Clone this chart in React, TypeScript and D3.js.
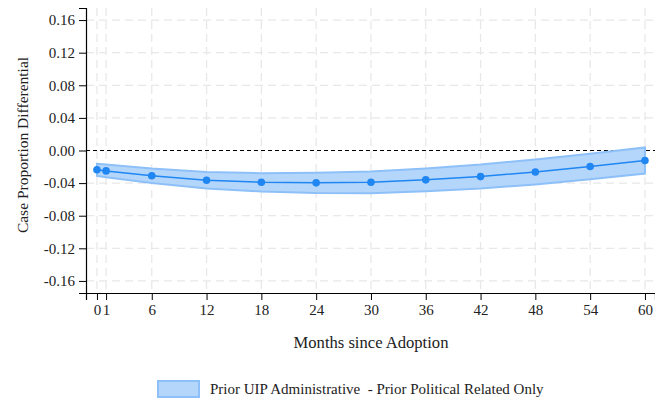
import * as d3 from "d3";
import React, { useRef, useEffect } from "react";

const width = 655;
const height = 400;
const margin = { top: 8, right: 0, bottom: 107, left: 86 };
const font = "'Liberation Serif', 'Times New Roman', serif";

const months = [0, 1, 6, 12, 18, 24, 30, 36, 42, 48, 54, 60];
const estimate = [-0.0237, -0.025, -0.031, -0.0365, -0.039, -0.0397, -0.039, -0.036, -0.032, -0.0263, -0.0196, -0.0122];
const lower = [-0.0312, -0.0327, -0.0398, -0.0465, -0.0502, -0.052, -0.0523, -0.05, -0.0467, -0.0416, -0.0353, -0.0282];
const upper = [-0.0162, -0.0173, -0.0222, -0.0265, -0.0278, -0.0274, -0.0257, -0.022, -0.0173, -0.011, -0.0039, 0.0038];
const yTicks = [0.16, 0.12, 0.08, 0.04, 0, -0.04, -0.08, -0.12, -0.16];
const legendLabel = "Prior UIP Administrative  - Prior Political Related Only";

const fmtY = (d: number) => d3.format(".2f")(d).replace("\u2212", "-");

export default function App() {
  const ref = useRef<SVGSVGElement>(null);

  useEffect(() => {
    if (!ref.current) return;
    const svg = d3.select(ref.current);
    svg.selectAll("*").remove();

    const data = months.map((m, i) => ({ m, est: estimate[i], lo: lower[i], hi: upper[i] }));

    const x = d3.scaleLinear().domain([-1.2, 61.1]).range([margin.left, width - margin.right]);
    const y = d3.scaleLinear().domain([-0.1748, 0.1748]).range([height - margin.bottom, margin.top]);

    // grid
    const grid = svg.append("g");
    grid.selectAll("line.v")
      .data(months)
      .join("line")
      .attr("x1", d => x(d)).attr("x2", d => x(d))
      .attr("y1", margin.top).attr("y2", height - margin.bottom)
      .attr("stroke", "#e8e8e8").attr("stroke-width", 1.3)
      .attr("stroke-dasharray", "8,5");
    grid.selectAll("line.h")
      .data(yTicks.filter(d => d !== 0))
      .join("line")
      .attr("x1", margin.left).attr("x2", width - margin.right)
      .attr("y1", d => y(d)).attr("y2", d => y(d))
      .attr("stroke", "#e8e8e8").attr("stroke-width", 1.3)
      .attr("stroke-dasharray", "8,5");

    // zero reference
    svg.append("line")
      .attr("x1", margin.left).attr("x2", width - margin.right)
      .attr("y1", y(0)).attr("y2", y(0))
      .attr("stroke", "#000").attr("stroke-width", 1.2)
      .attr("stroke-dasharray", "4,3");

    // band
    const area = d3.area<any>().x(d => x(d.m)).y0(d => y(d.lo)).y1(d => y(d.hi));
    svg.append("path")
      .datum(data)
      .attr("d", area)
      .attr("fill", "#b5d6fb")
      .attr("stroke", "#8dc0f8")
      .attr("stroke-width", 2);

    const line = d3.line<any>().x(d => x(d.m)).y(d => y(d.est));
    svg.append("path")
      .datum(data)
      .attr("d", line)
      .attr("fill", "none")
      .attr("stroke", "#1f86f2")
      .attr("stroke-width", 1.5);

    svg.append("g")
      .selectAll("circle")
      .data(data)
      .join("circle")
      .attr("cx", d => x(d.m))
      .attr("cy", d => y(d.est))
      .attr("r", 3.8)
      .attr("fill", "#1f86f2");

    // axes
    const yAxis = svg.append("g")
      .attr("transform", `translate(${margin.left},0)`)
      .call(d3.axisLeft(y).tickValues(yTicks).tickFormat(fmtY as any).tickSizeOuter(0).tickSize(7).tickPadding(4));
    yAxis.select(".domain").attr("stroke-width", 1.2);
    yAxis.selectAll("text").attr("font-family", font).attr("font-size", 15).attr("fill", "#222");

    const xAxis = svg.append("g")
      .attr("transform", `translate(0,${height - margin.bottom})`)
      .call(d3.axisBottom(x).tickValues(months).tickFormat(d3.format("d")).tickSizeOuter(0).tickSize(7).tickPadding(4));
    xAxis.select(".domain").attr("stroke-width", 1.2);
    xAxis.selectAll("text").attr("font-family", font).attr("font-size", 15).attr("fill", "#222");

    svg.append("text")
      .attr("x", 371)
      .attr("y", 348)
      .attr("text-anchor", "middle")
      .attr("font-family", font).attr("font-size", 16.6)
      .attr("fill", "#222")
      .text("Months since Adoption");

    svg.append("text")
      .attr("transform", `translate(28,145) rotate(-90)`)
      .attr("text-anchor", "middle")
      .attr("font-family", font).attr("font-size", 15.5)
      .attr("fill", "#222")
      .text("Case Proportion Differential");

    // legend
    const legend = svg.append("g");
    legend.append("rect")
      .attr("x", 158).attr("y", 381)
      .attr("width", 41).attr("height", 16)
      .attr("fill", "#b5d6fb")
      .attr("stroke", "#8dc0f8").attr("stroke-width", 2);
    legend.append("text")
      .attr("x", 210).attr("y", 394)
      .attr("font-family", font).attr("font-size", 15)
      .attr("fill", "#222")
      .attr("xml:space", "preserve")
      .style("white-space", "pre")
      .text(legendLabel);
  }, []);

  return (
    <div style={{ position: "absolute", left: 0, top: 0 }}>
      <svg ref={ref} width={width} height={height} style={{ display: "block", background: "#fff" }} />
    </div>
  );
}
